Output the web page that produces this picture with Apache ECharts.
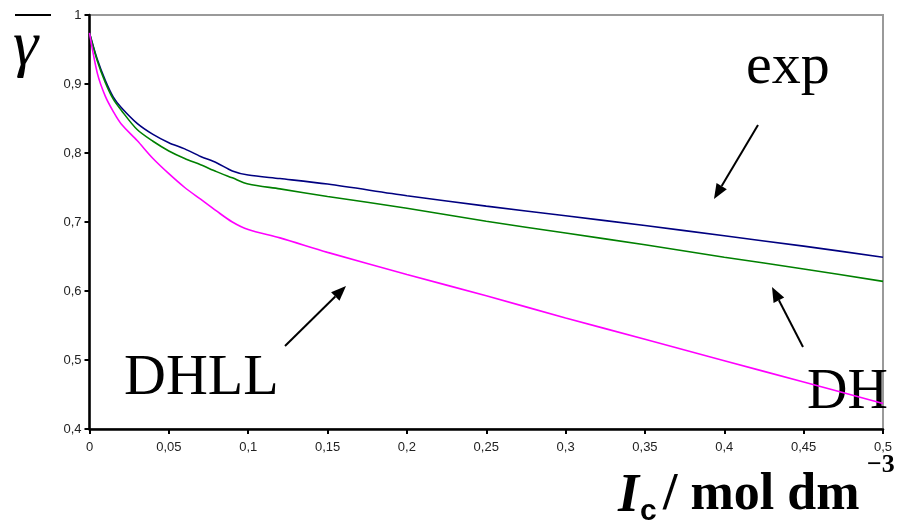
<!DOCTYPE html>
<html>
<head>
    <meta charset="utf-8">
    <title>Activity coefficient</title>
    <script src="https://cdn.jsdelivr.net/npm/echarts@6/dist/echarts.min.js"></script>
</head>
<body style="margin:0px;">
    <div id="main" style="width: 900px;height:520px;"></div>
    <script type="text/javascript">
    // ionic strength, mol dm^-3
    var ionic = [0, 0.005, 0.01, 0.015, 0.02, 0.03, 0.04, 0.05, 0.06, 0.07, 0.08, 0.09, 0.1, 0.12, 0.15, 0.2, 0.25, 0.3, 0.35, 0.4, 0.45, 0.5];
    var gammaExp  = [0.974, 0.935, 0.905, 0.881, 0.866, 0.843, 0.827, 0.815, 0.806, 0.795, 0.786, 0.774, 0.768, 0.763, 0.755, 0.738, 0.723, 0.709, 0.695, 0.680, 0.665, 0.649];
    var gammaDH   = [0.974, 0.933, 0.902, 0.878, 0.862, 0.834, 0.817, 0.803, 0.792, 0.783, 0.773, 0.764, 0.755, 0.748, 0.737, 0.720, 0.701, 0.684, 0.667, 0.649, 0.632, 0.614];
    var gammaDHLL = [0.974, 0.915, 0.882, 0.860, 0.842, 0.818, 0.792, 0.770, 0.750, 0.733, 0.716, 0.700, 0.689, 0.677, 0.656, 0.624, 0.593, 0.561, 0.530, 0.499, 0.468, 0.437];
    </script>
    <script type="text/javascript">
		var myChart = echarts.init(document.getElementById('main'));

		function pairs(ys) {
			return ionic.map(function (x, i) { return [x, ys[i]]; });
		}
		function comma(v) {
			return parseFloat(v.toFixed(2)).toString().replace('.', ',');
		}
		function arrow(x1, y1, x2, y2) {
			var a = Math.atan2(y2 - y1, x2 - x1), L = 15, W = 6;
			var bx = x2 - L * Math.cos(a), by = y2 - L * Math.sin(a);
			return [{
				type: 'line',
				shape: {x1: x1, y1: y1, x2: bx, y2: by},
				style: {stroke: '#000', lineWidth: 2}
			}, {
				type: 'polygon',
				shape: {points: [[x2, y2],
					[bx + W * Math.sin(a), by - W * Math.cos(a)],
					[bx - W * Math.sin(a), by + W * Math.cos(a)]]},
				style: {fill: '#000'}
			}];
		}
		var serif = '"Liberation Serif", "DejaVu Serif", serif';
		var big = {fontFamily: serif, fontSize: 58, fill: '#000'};

		var graphics = [
			{type: 'text', left: 124, top: 350, style: Object.assign({text: 'DHLL'}, big)},
			{type: 'text', left: 807, top: 365, style: Object.assign({text: 'DH', fontSize: 56}, big, {fontSize: 56})},
			{type: 'text', left: 746, top: 39, style: Object.assign({text: 'exp'}, big)},
			{type: 'line', shape: {x1: 15, y1: 15, x2: 51, y2: 15}, style: {stroke: '#000', lineWidth: 2}},
			{type: 'text', left: 13, top: 15, style: {text: 'γ', fontFamily: serif, fontStyle: 'italic', fontSize: 64, fill: '#000'}},
			{type: 'text', left: 618, top: 470, style: {text: 'I', fontFamily: serif, fontStyle: 'italic', fontWeight: 'bold', fontSize: 54, fill: '#000'}},
			{type: 'text', left: 640, top: 497, style: {text: 'c', fontFamily: 'Liberation Sans, Arial, sans-serif', fontWeight: 'bold', fontSize: 30, fill: '#000'}},
			{type: 'text', left: 663, top: 470, style: {text: '/ mol dm', fontFamily: serif, fontWeight: 'bold', fontSize: 52, fill: '#000'}},
			{type: 'text', left: 867, top: 452, style: {text: '−3', fontFamily: serif, fontWeight: 'bold', fontSize: 26, fill: '#000'}}
		];
		graphics = graphics
			.concat(arrow(758, 125, 714, 199))
			.concat(arrow(803, 347, 772, 287))
			.concat(arrow(285, 346, 346, 286));

		myChart.setOption({
			animation: false,
			backgroundColor: '#fff',
			grid: {
				left: 89.5, right: 17, top: 15, bottom: 91,
				show: true,
				borderColor: '#9a9a9a',
				borderWidth: 2
			},
			xAxis: {
				type: 'value',
				min: 0, max: 0.5, interval: 0.05,
				splitLine: {show: false},
				axisLine: {onZero: false, lineStyle: {color: '#000', width: 2.5}},
				axisTick: {length: 5, lineStyle: {color: '#000', width: 2}},
				axisLabel: {
					margin: 12, color: '#222', fontSize: 13,
					fontFamily: 'Liberation Sans, Arial, sans-serif',
					formatter: comma
				}
			},
			yAxis: {
				type: 'value',
				min: 0.4, max: 1, interval: 0.1,
				splitLine: {show: false},
				axisLine: {onZero: false, lineStyle: {color: '#000', width: 2.5}},
				axisTick: {length: 5, lineStyle: {color: '#000', width: 2}},
				axisLabel: {
					margin: 8, color: '#222', fontSize: 13,
					fontFamily: 'Liberation Sans, Arial, sans-serif',
					formatter: comma
				}
			},
			series: [
				{name: 'exp', type: 'line', data: pairs(gammaExp), showSymbol: false, smooth: 0.3,
					lineStyle: {color: '#000080', width: 1.6}},
				{name: 'DH', type: 'line', data: pairs(gammaDH), showSymbol: false, smooth: 0.3,
					lineStyle: {color: '#008000', width: 1.6}},
				{name: 'DHLL', type: 'line', data: pairs(gammaDHLL), showSymbol: false, smooth: 0.3,
					lineStyle: {color: '#ff00ff', width: 1.6}}
			],
			graphic: graphics
		});
    </script>
</body>
</html>
